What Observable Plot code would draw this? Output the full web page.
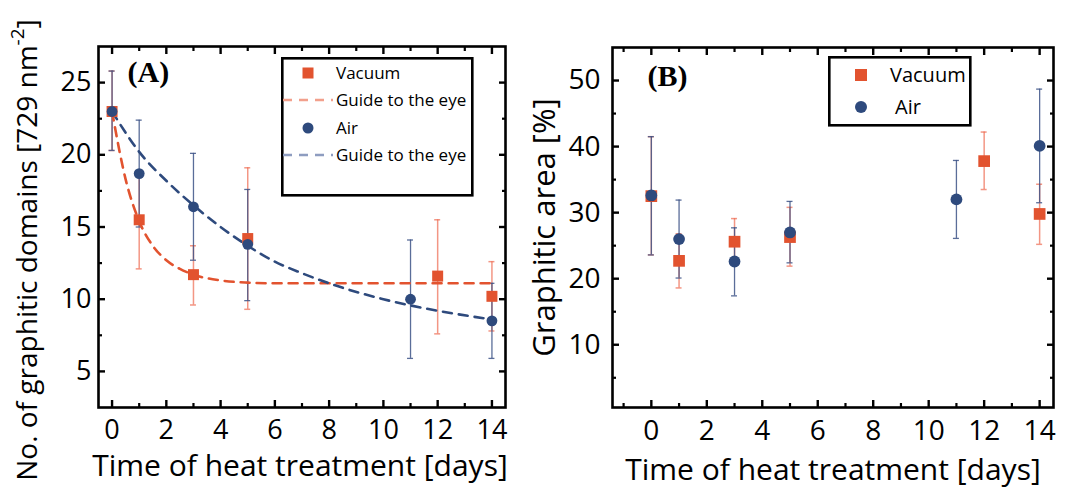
<!DOCTYPE html>
<html><head><meta charset="utf-8">
<script src="https://cdn.jsdelivr.net/npm/d3@7"></script>
<script src="https://cdn.jsdelivr.net/npm/@observablehq/plot@0.6"></script>
<style>
body{margin:0;background:#fff;}
#wrap{position:relative;width:1070px;height:489px;overflow:hidden;font-family:"Open Sans",sans-serif;background:#fff;}
.panel{position:absolute;top:0;}
.legend{position:absolute;}
</style></head><body><div id="wrap"></div>
<script>
// ---------- data ----------
// Panel A: number of graphitic domains
const vacDaysA = [0, 1, 3, 5, 12, 14];
const vacDomains = [23.0, 15.5, 11.7, 14.2, 11.6, 10.2];
const vacDomainsLo = [20.3, 12.1, 9.6, 9.3, 7.6, 7.8];
const vacDomainsHi = [25.8, 18.9, 13.7, 19.1, 15.5, 12.6];
const airDaysA = [0, 1, 3, 5, 11, 14];
const airDomains = [23.0, 18.7, 16.4, 13.8, 10.0, 8.5];
const airDomainsLo = [20.3, 15.0, 12.7, 9.9, 5.9, 5.9];
const airDomainsHi = [25.8, 22.4, 20.1, 17.6, 14.1, 11.1];
// guide-to-the-eye curves
const vacGuideX = [0, 0.5, 1, 1.5, 2, 2.5, 3, 4, 5, 6, 8, 10, 12, 14];
const vacGuideY = [23.0, 18.3, 15.4, 13.7, 12.7, 12.1, 11.7, 11.3, 11.15, 11.1, 11.1, 11.1, 11.1, 11.1];
const airGuideX = [0, 1, 2, 3, 4, 5, 6, 7, 8, 10, 12, 14];
const airGuideY = [23.0, 20.2, 18.2, 16.5, 15.0, 13.7, 12.6, 11.8, 11.1, 10.0, 9.2, 8.6];
// Panel B: graphitic area
const vacDaysB = [0, 1, 3, 5, 12, 14];
const vacArea = [32.5, 22.7, 25.6, 26.3, 37.8, 29.8];
const vacAreaLo = [23.6, 18.6, 22.2, 21.9, 33.5, 25.2];
const vacAreaHi = [41.5, 26.8, 29.1, 30.8, 42.2, 34.3];
const airDaysB = [0, 1, 3, 5, 11, 14];
const airArea = [32.6, 26.0, 22.6, 27.0, 32.0, 40.1];
const airAreaLo = [23.6, 20.1, 17.4, 22.4, 26.1, 31.5];
const airAreaHi = [41.5, 31.9, 27.7, 31.7, 37.9, 48.7];
// ticks
const xMajor = [0, 2, 4, 6, 8, 10, 12, 14];
const xMinorA = [1, 3, 5, 7, 9, 11, 13];
const xMinorB = [-1, 1, 3, 5, 7, 9, 11, 13];
const yMajorA = [5, 10, 15, 20, 25];
const yMinorA = [7.5, 12.5, 17.5, 22.5];
const yMajorB = [10, 20, 30, 40, 50];
const yMinorB = [5, 15, 25, 35, 45];
const seriesNames = ["Vacuum", "Air"];
const guideLabel = "Guide to the eye";
const xTitle = "Time of heat treatment [days]";
const yTitleA = "No. of graphitic domains [729 nm-2]";
const yTitleB = "Graphitic area [%]";

// ---------- style ----------
const VAC = "#E2532F", VAC_ERR = "#EE6A50", VAC_LEG = "#F2A08C";
const AIR = "#2E4A7D", AIR_ERR = "#3D5387", AIR_LEG = "#8E9DC0";
const FONT = "Open Sans";

const rows = (xs, ys, lo, hi) => xs.map((x, i) => ({x, y: ys[i], lo: lo[i], hi: hi[i]}));
const pts = (xs, ys) => xs.map((x, i) => ({x, y: ys[i]}));

function errMarks(data, color, w, op) {
  return [
    Plot.ruleX(data, {x: "x", y1: "lo", y2: "hi", stroke: color, strokeWidth: w, strokeOpacity: op}),
    Plot.ruleY(data, {x1: "x", x2: "x", y: "lo", insetLeft: -3, insetRight: -3, stroke: color, strokeWidth: w, strokeOpacity: op}),
    Plot.ruleY(data, {x1: "x", x2: "x", y: "hi", insetLeft: -3, insetRight: -3, stroke: color, strokeWidth: w, strokeOpacity: op})
  ];
}

function frameAxes(c) {
  const blank = () => "";
  return [
    Plot.frame({stroke: "black", strokeWidth: 2.6}),
    // tick labels
    Plot.axisX(c.xMajor, {anchor: "bottom", tickSize: 0, tickPadding: c.xPad, fontSize: c.tickFont, label: null}),
    Plot.axisY(c.yMajor, {anchor: "left", tickSize: 0, tickPadding: c.yPad, fontSize: c.tickFont, label: null}),
    // inward ticks on all four sides
    Plot.axisX(c.xMajor, {anchor: "bottom", tickSize: -7, strokeWidth: 2.4, tickFormat: blank, label: null}),
    Plot.axisX(c.xMinor, {anchor: "bottom", tickSize: -4, strokeWidth: 2.2, tickFormat: blank, label: null}),
    Plot.axisX(c.xMajor, {anchor: "top", tickSize: -7, strokeWidth: 2.4, tickFormat: blank, label: null}),
    Plot.axisX(c.xMinor, {anchor: "top", tickSize: -4, strokeWidth: 2.2, tickFormat: blank, label: null}),
    Plot.axisY(c.yMajor, {anchor: "left", tickSize: -7, strokeWidth: 2.4, tickFormat: blank, label: null}),
    Plot.axisY(c.yMinor, {anchor: "left", tickSize: -4, strokeWidth: 2.2, tickFormat: blank, label: null}),
    Plot.axisY(c.yMajor, {anchor: "right", tickSize: -7, strokeWidth: 2.4, tickFormat: blank, label: null}),
    Plot.axisY(c.yMinor, {anchor: "right", tickSize: -4, strokeWidth: 2.2, tickFormat: blank, label: null}),
    // titles
    Plot.text([xTitle], {frameAnchor: "bottom", dy: c.xTitleDy, dx: c.xTitleDx, text: d => d, fontSize: c.xTitleFont, textAnchor: "middle", lineAnchor: "middle", fill: "black"}),
    Plot.text([c.yTitle], {frameAnchor: "left", rotate: -90, dx: c.yTitleDx, dy: c.yTitleDy, text: d => d, fontSize: c.yTitleFont, textAnchor: "middle", lineAnchor: "middle", fill: "black"}),
    Plot.text([c.tag], {frameAnchor: "top-left", dx: c.tagDx, dy: c.tagDy, text: d => d, textAnchor: "start", lineAnchor: "middle", fontFamily: "Liberation Serif", fontWeight: "bold", fontSize: 30, fill: "black"})
  ];
}

function makePanel(c) {
  const p = Plot.plot({
    width: 535, height: 489,
    marginLeft: c.margin[0], marginRight: c.margin[1], marginTop: c.margin[2], marginBottom: c.margin[3],
    x: {domain: c.xDomain},
    y: {domain: c.yDomain},
    style: {fontFamily: FONT, fontSize: c.tickFont + "px", color: "black", background: "transparent", overflow: "visible"},
    marks: [...c.marks, ...frameAxes(c)]
  });
  p.classList.add("panel");
  p.style.left = c.left + "px";
  return p;
}

const wrap = document.getElementById("wrap");

// ----- Panel A -----
const vacA = rows(vacDaysA, vacDomains, vacDomainsLo, vacDomainsHi);
const airA = rows(airDaysA, airDomains, airDomainsLo, airDomainsHi);
const pA = makePanel({
  left: 0, margin: [98, 30, 46, 82],
  xDomain: [-0.5, 14.5], yDomain: [2.5, 27.5],
  xMajor, xMinor: xMinorA, yMajor: yMajorA, yMinor: yMinorA,
  tickFont: 27, xPad: 12, yPad: 7,
  xTitleDy: 59, xTitleDx: -2, xTitleFont: 30,
  yTitle: yTitleA, yTitleDx: -70, yTitleDy: 23, yTitleFont: 28,
  tag: "(A)", tagDx: 29, tagDy: 26,
  marks: [
    ...errMarks(vacA, VAC_ERR, 1.5, 0.7),
    ...errMarks(airA, AIR_ERR, 1.3, 0.85),
    Plot.line(pts(vacGuideX, vacGuideY), {x: "x", y: "y", curve: "monotone-x", stroke: VAC, strokeWidth: 2.6, strokeDasharray: "9,7"}),
    Plot.line(pts(airGuideX, airGuideY), {x: "x", y: "y", curve: "monotone-x", stroke: AIR, strokeWidth: 2.6, strokeDasharray: "9,7"}),
    Plot.dot(vacA, {x: "x", y: "y", symbol: "square", r: 6.2, fill: VAC, stroke: null}),
    Plot.dot(airA, {x: "x", y: "y", symbol: "circle", r: 5.4, fill: AIR, stroke: null})
  ]
});
wrap.appendChild(pA);

// ----- Panel B -----
const vacB = rows(vacDaysB, vacArea, vacAreaLo, vacAreaHi);
const airB = rows(airDaysB, airArea, airAreaLo, airAreaHi);
const pB = makePanel({
  left: 535, margin: [77, 17, 47, 82],
  xDomain: [-1.4, 14.5], yDomain: [0.5, 55],
  xMajor, xMinor: xMinorB, yMajor: yMajorB, yMinor: yMinorB,
  tickFont: 28, xPad: 13, yPad: 12,
  xTitleDy: 63, xTitleDx: 0, xTitleFont: 30,
  yTitle: yTitleB, yTitleDx: -67, yTitleDy: 0, yTitleFont: 31,
  tag: "(B)", tagDx: 35, tagDy: 29,
  marks: [
    ...errMarks(vacB, VAC_ERR, 1.5, 0.7),
    ...errMarks(airB, AIR_ERR, 1.3, 0.85),
    Plot.dot(vacB, {x: "x", y: "y", symbol: "square", r: 6.6, fill: VAC, stroke: null}),
    Plot.dot(airB, {x: "x", y: "y", symbol: "circle", r: 5.9, fill: AIR, stroke: null})
  ]
});
wrap.appendChild(pB);

// superscript in the panel A y title
d3.select(pA).selectAll("text").filter(function() { return this.textContent === yTitleA; }).each(function() {
  const t = d3.select(this);
  t.text(null);
  t.append("tspan").text("No. of graphitic domains [729 nm");
  t.append("tspan").attr("baseline-shift", "super").attr("font-size", "19").text("-2");
  t.append("tspan").text("]");
});

// ----- legends -----
function legend(left, top, w, h, items, fontSize) {
  const svg = d3.select(wrap).append("svg").attr("class", "legend")
    .style("left", left + "px").style("top", top + "px")
    .attr("width", w + 4).attr("height", h + 4)
    .style("font-family", FONT);
  svg.append("rect").attr("x", 1.3).attr("y", 1.3).attr("width", w).attr("height", h)
    .attr("fill", "white").attr("stroke", "black").attr("stroke-width", 2.6);
  for (const it of items) {
    if (it.kind === "square") svg.append("rect").attr("x", it.cx - it.s / 2).attr("y", it.cy - it.s / 2).attr("width", it.s).attr("height", it.s).attr("fill", it.color);
    if (it.kind === "circle") svg.append("circle").attr("cx", it.cx).attr("cy", it.cy).attr("r", it.s / 2).attr("fill", it.color);
    if (it.kind === "dash") svg.append("line").attr("x1", it.x1).attr("x2", it.x2).attr("y1", it.cy).attr("y2", it.cy).attr("stroke", it.color).attr("stroke-width", 2.6).attr("stroke-dasharray", "9,7");
    svg.append("text").attr("x", it.tx).attr("y", it.cy).attr("dy", "0.35em").attr("font-size", fontSize).attr("fill", "black").text(it.label);
  }
}
legend(281, 57, 190, 137, [
  {kind: "square", cx: 27, cy: 16, s: 11, color: VAC, tx: 55, label: seriesNames[0]},
  {kind: "dash", x1: 2, x2: 52, cy: 43, color: VAC_LEG, tx: 55, label: guideLabel},
  {kind: "circle", cx: 27, cy: 71, s: 11, color: AIR, tx: 55, label: seriesNames[1]},
  {kind: "dash", x1: 2, x2: 52, cy: 98, color: AIR_LEG, tx: 55, label: guideLabel}
], 17);
legend(828, 56, 141, 68, [
  {kind: "square", cx: 33, cy: 19, s: 12, color: VAC, tx: 62, label: seriesNames[0]},
  {kind: "circle", cx: 33, cy: 51, s: 12, color: AIR, tx: 67, label: seriesNames[1]}
], 20);
</script>
</body></html>
